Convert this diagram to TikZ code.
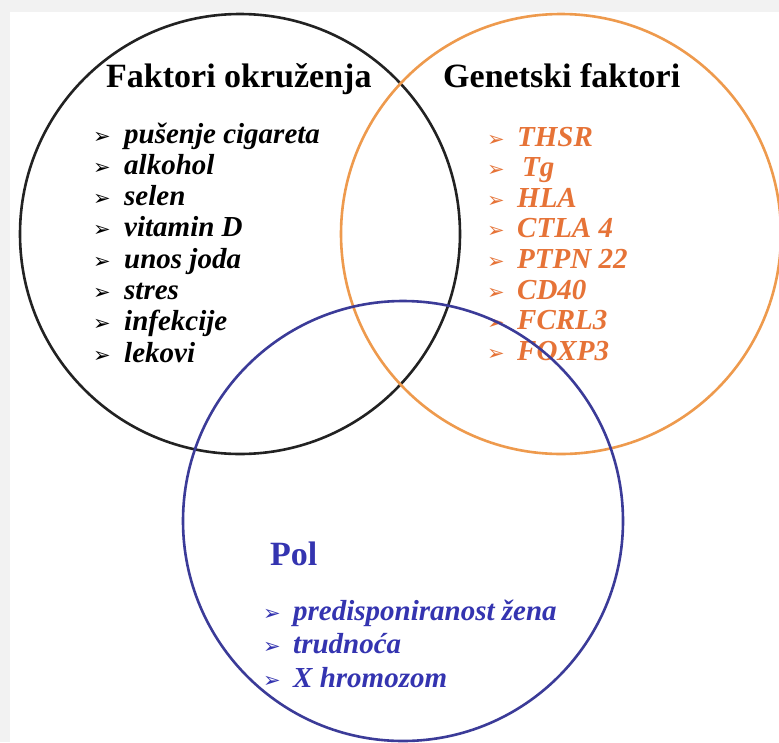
\documentclass[tikz,border=0pt]{standalone}
\usepackage{fontspec}
\setmainfont{Liberation Serif}
\newfontfamily\dingfont{DejaVu Sans}
\definecolor{envline}{HTML}{222222}
\definecolor{genline}{HTML}{EE9A4D}
\definecolor{gentext}{HTML}{E67337}
\definecolor{polline}{HTML}{3B3B98}
\definecolor{poltext}{HTML}{3434B0}
\definecolor{pagegray}{HTML}{F2F2F2}

\begin{document}
\begin{tikzpicture}[x=1pt,y=-1pt,
  title/.style={anchor=base west, inner sep=0pt, font=\fontsize{34}{34}\selectfont\bfseries},
  item/.style={anchor=base west, inner sep=0pt, font=\fontsize{29}{29}\selectfont\bfseries\itshape},
  bul/.style={anchor=base west, inner sep=0pt, font=\dingfont\fontsize{21}{21}\selectfont},
  ring/.style={circle, line width=2.6pt, inner sep=0pt, minimum size=#1}]

% page
\fill[pagegray] (0,0) rectangle (779,742);
\fill[white] (10,12) rectangle (779,742);
\useasboundingbox (0,0) rectangle (779,742);

% Faktori okruzenja
\node[title] (envtitle) at (106,87) {Faktori okruženja};
\foreach \txt [count=\i] in {pušenje cigareta, alkohol, selen, vitamin D,
    unos joda, stres, infekcije, lekovi} {
  \node[bul] (envbul\i) at (93,{111.7+31.3*\i}) {➢};
  \node[item] (env\i) at (124,{111.7+31.3*\i}) {\txt};
}

% Genetski faktori
\node[title] (gentitle) at (443,87) {Genetski faktori};
\foreach \txt [count=\i] in {THSR, \,Tg, HLA, CTLA 4, PTPN 22, CD40, FCRL3, FOXP3} {
  \node[bul, text=gentext] (genbul\i) at (487,{115.4+30.6*\i}) {➢};
  \node[item, text=gentext] (gen\i) at (517,{115.4+30.6*\i}) {\txt};
}

% Pol
\node[title, text=poltext] (poltitle) at (270,565) {Pol};
\foreach \txt [count=\i] in {predisponiranost žena, trudnoća, X hromozom} {
  \node[bul, text=poltext] (polbul\i) at (263,{586.5+33.5*\i}) {➢};
  \node[item, text=poltext] (pol\i) at (293,{586.5+33.5*\i}) {\txt};
}

% circles
\node[ring=440pt, draw=envline] (env) at (240,234) {};
\node[ring=440pt, draw=genline] (gen) at (561,234) {};
\node[ring=440pt, draw=polline] (pol) at (403,521) {};

\end{tikzpicture}
\end{document}
